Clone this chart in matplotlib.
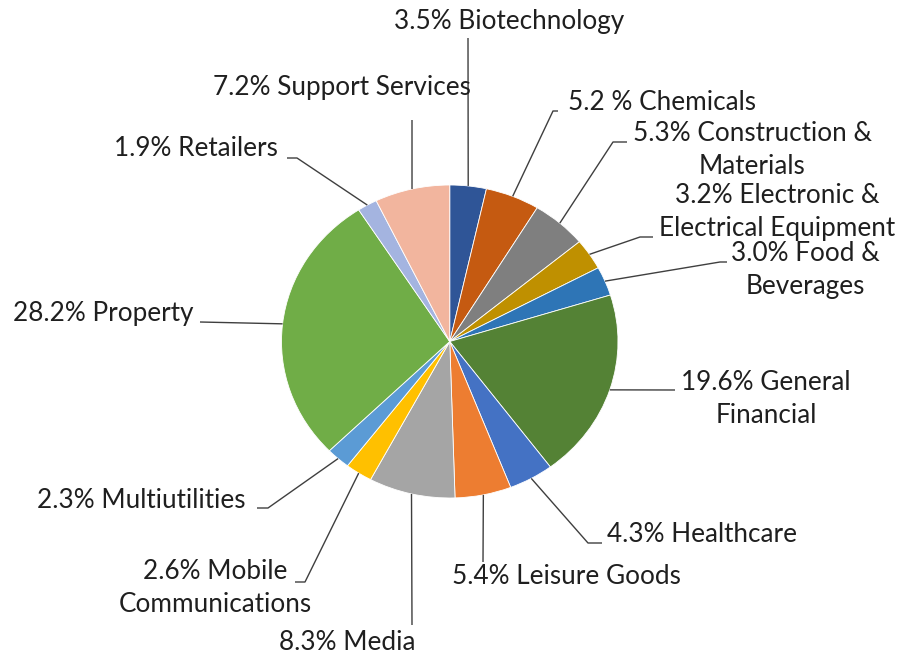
import matplotlib
matplotlib.use("Agg")
import matplotlib.pyplot as plt
import numpy as np

# --- дані ---
sectors = ["Biotechnology", "Chemicals", "Construction &\nMaterials",
           "Electronic &\nElectrical Equipment", "Food &\nBeverages",
           "General\nFinancial", "Healthcare", "Leisure Goods", "Media",
           "Mobile\nCommunications", "Multiutilities", "Property",
           "Retailers", "Support Services"]
shares = [3.5, 5.2, 5.3, 3.2, 3.0, 19.6, 4.3, 5.4, 8.3, 2.6, 2.3, 28.2, 1.9, 7.2]
pct_text = ["3.5%", "5.2 %", "5.3%", "3.2%", "3.0%", "19.6%", "4.3%", "5.4%",
            "8.3%", "2.6%", "2.3%", "28.2%", "1.9%", "7.2%"]

colors = ["#2F5597", "#C55A11", "#7F7F7F", "#BF9000", "#2E75B6", "#548235",
          "#4472C4", "#ED7D31", "#A5A5A5", "#FFC000", "#5B9BD5", "#70AD47",
          "#A4B4E0", "#F2B59E"]

# --- розкладка підписів (пікселі) ---
W, H = 905, 658
label_pos = [(509, 21), (662, 103), (752, 150), (777, 212), (805, 270),
             (766, 399), (702, 535), (566, 577), (347, 643), (215, 588),
             (141, 500), (103, 314), (196, 149), (342, 88)]
leader = [[(468, 38)],
          [(553, 111), (558, 111)],
          [(613, 142), (627, 142)],
          [(640, 237), (653, 237)],
          [(720, 262), (727, 262)],
          [(675, 390)],
          [(588, 543), (602, 543)],
          [(483, 562)],
          [(412, 625)],
          [(305, 582), (295, 582)],
          [(268, 508), (257, 508)],
          [(200, 322)],
          [(297, 158), (287, 158)],
          [(412, 120)]]

plt.rcParams['font.family'] = ['Lato', 'DejaVu Sans']

fig = plt.figure(figsize=(W / 100, H / 100), dpi=100)
fig.patch.set_facecolor("white")

pie_ax = fig.add_axes([281.5 / W, 1 - 498 / H, 336.5 / W, 313 / H])
wedges, _ = pie_ax.pie(shares, colors=colors, startangle=90, counterclock=False,
                       radius=1, wedgeprops=dict(edgecolor="white", linewidth=0.6))
pie_ax.set_aspect("auto")
pie_ax.set_xlim(-1, 1)
pie_ax.set_ylim(-1, 1)
pie_ax.axis("off")

ax = fig.add_axes([0, 0, 1, 1], facecolor="none")
ax.set_xlim(0, W)
ax.set_ylim(H, 0)
ax.axis("off")

to_px = pie_ax.transData + ax.transData.inverted()
for i, w in enumerate(wedges):
    th = np.deg2rad((w.theta1 + w.theta2) / 2)
    x0, y0 = to_px.transform((np.cos(th), np.sin(th)))
    xs = [x0] + [p[0] for p in leader[i]]
    ys = [y0] + [p[1] for p in leader[i]]
    ax.plot(xs, ys, color="#3F3F3F", lw=1.0, solid_capstyle="butt")
    tx, ty = label_pos[i]
    ax.text(tx, ty, pct_text[i] + " " + sectors[i], ha="center", va="center",
            fontsize=18.8, color="#1F1F1F", linespacing=1.4)

fig.savefig("out.png", dpi=100, facecolor="white")
